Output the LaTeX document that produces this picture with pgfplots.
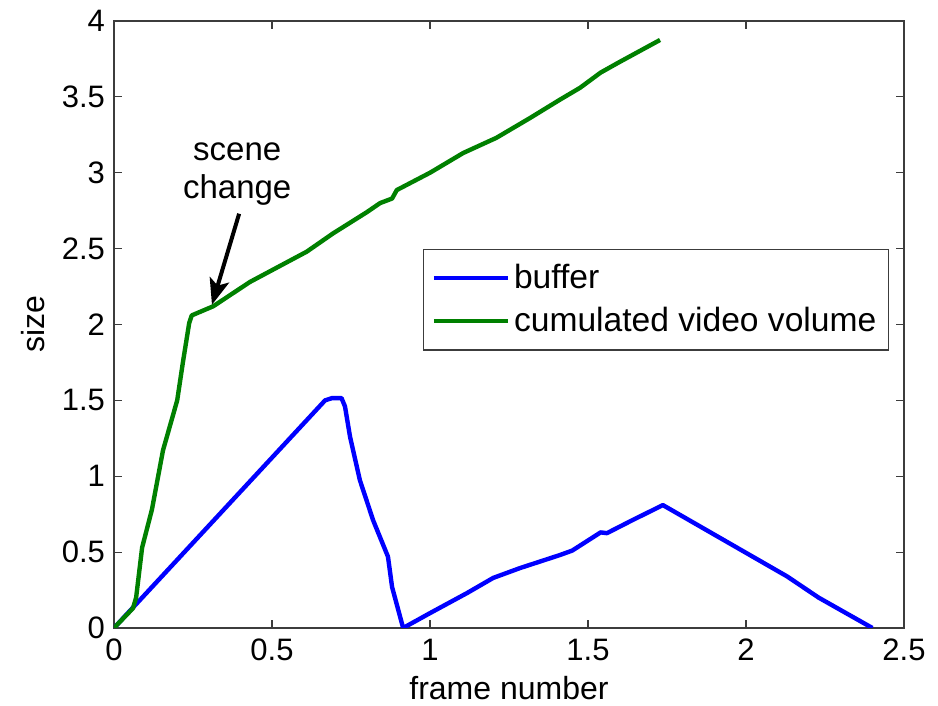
\documentclass[border=0pt]{standalone}
\usepackage{pgfplots}
\pgfplotsset{compat=1.18}
\usepackage{fontspec}
\setmainfont{Liberation Sans}
\usetikzlibrary{arrows.meta}
\definecolor{mblue}{RGB}{0,0,255}
\definecolor{mgreen}{RGB}{0,128,0}
\definecolor{axgray}{RGB}{60,60,60}
\begin{document}
\begin{tikzpicture}
\begin{axis}[
  at={(0,0)}, anchor=south west,
  scale only axis, width=395pt, height=303.5pt,
  xmin=0, xmax=2.5, ymin=0, ymax=4,
  xtick={0,0.5,...,2.5}, ytick={0,0.5,...,4},
  /pgf/number format/assume math mode=true,
  tick align=inside, major tick length=4pt,
  axis line style={axgray, line width=0.6pt},
  every tick/.style={axgray, line width=0.6pt},
  tick label style={font=\fontsize{15.5}{17}\selectfont},
  yticklabel style={xshift=-1pt},
  xticklabel style={yshift=-2pt},
  xlabel={frame number}, ylabel={size},
  label style={font=\fontsize{16}{18}\selectfont},
  xlabel style={at={(axis description cs:0.5,-0.099)}, anchor=center},
  ylabel style={at={(axis description cs:-0.1025,0.5)}, anchor=center},
  legend style={at={(axis cs:0.978,2.5)}, anchor=north west, draw=axgray, line width=0.6pt,
    font=\fontsize{16.8}{19}\selectfont, inner xsep=4pt, inner ysep=5.5pt, row sep=4pt},
  legend cell align=left,
  legend image code/.code={\draw[#1, line width=2.2pt] (0pt,0pt) -- (37pt,0pt);},
]
\addplot[mblue, line width=2.2pt, line join=round] coordinates {
(0,0) (0.668,1.50) (0.69,1.515) (0.72,1.515) (0.731,1.46) (0.747,1.26)
(0.778,0.975) (0.82,0.71) (0.867,0.47) (0.88,0.27) (0.915,0.0)
(1.0,0.098) (1.117,0.23) (1.2,0.33) (1.285,0.395) (1.41,0.48) (1.45,0.51)
(1.54,0.63) (1.56,0.625) (1.64,0.71) (1.737,0.81) (2.13,0.34) (2.23,0.2) (2.40,0)
};
\addlegendentry{buffer}
\addplot[mgreen, line width=2.2pt, line join=round] coordinates {
(0,0) (0.06,0.13) (0.07,0.2) (0.089,0.53) (0.12,0.78) (0.155,1.17) (0.2,1.5)
(0.218,1.75) (0.238,2.01) (0.246,2.06) (0.314,2.12) (0.43,2.28) (0.484,2.34)
(0.61,2.48) (0.693,2.60) (0.80,2.74) (0.842,2.80) (0.88,2.83) (0.895,2.886)
(1.0,3.0) (1.105,3.13) (1.21,3.23) (1.316,3.36) (1.41,3.48) (1.475,3.56)
(1.54,3.66) (1.60,3.73) (1.728,3.875)
};
\addlegendentry{cumulated video volume}
\draw[black, line width=2pt, -{Stealth[length=13pt, width=10pt, inset=3pt]}]
  (axis cs:0.396,2.73) -- (axis cs:0.31,2.13);
\node[align=center, font=\fontsize{16.5}{19}\selectfont] at (axis cs:0.39,2.99) {scene\\change};
\end{axis}
\pgfresetboundingbox
\path[use as bounding box] (-57pt,-39pt) rectangle (412pt,314pt);
\end{tikzpicture}
\end{document}
